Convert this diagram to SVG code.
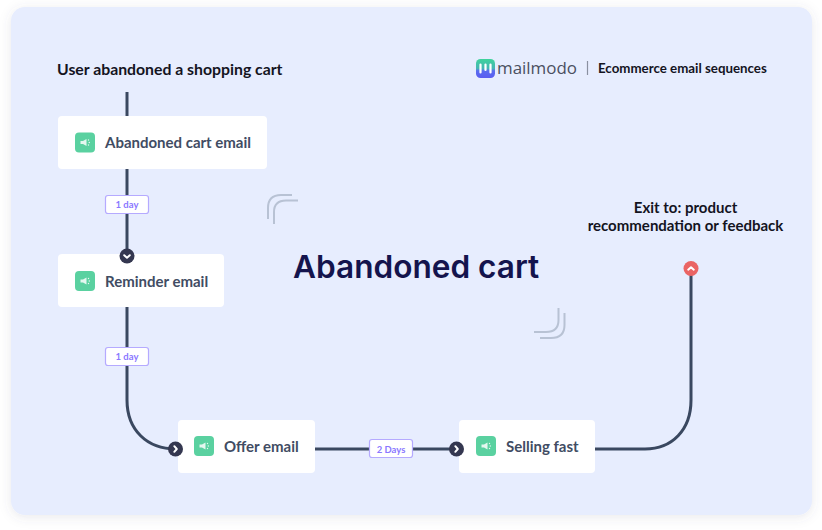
<svg xmlns="http://www.w3.org/2000/svg" width="822" height="530" viewBox="0 0 822 530">
<style>
text{font-family:"Lato","Liberation Sans",sans-serif}
.card{fill:#fff}
.lbl{font-size:15px;font-weight:700;fill:#414c63}
.head{font-size:15px;font-weight:700;fill:#14141f}
.start{font-size:15.8px}
.line{fill:none;stroke:#3a4860;stroke-width:3}
.brk{fill:none;stroke:#b8c2d4;stroke-width:2}
.badge{fill:#fff;stroke:#b5aaff;stroke-width:1.2}
.btxt{font-size:9.5px;font-weight:700;fill:#8a78ff;text-anchor:middle}
.dot{fill:#343750}
.chev{fill:none;stroke:#fff;stroke-width:2;stroke-linecap:round;stroke-linejoin:round}
.ico{fill:#5ad1a0}
.mg{fill:#e4f7ef}
</style>
<defs>
<filter id="sh" x="-5%" y="-5%" width="110%" height="110%"><feDropShadow dx="0" dy="2" stdDeviation="6" flood-color="#50506e" flood-opacity="0.13"/></filter>
<linearGradient id="lg" x1="0" y1="0" x2="0" y2="1"><stop offset="0" stop-color="#3fd39b"/><stop offset="0.5" stop-color="#45b5b5"/><stop offset="0.62" stop-color="#5a6cf0"/><stop offset="1" stop-color="#5a5cf0"/></linearGradient>
<g id="icon"><rect class="ico" width="20" height="20" rx="4"/><path class="mg" d="M5.500 8.500h2.500l3.500-2v7l-3.500-2h-2.500z"/><circle class="mg" cx="13.500" cy="7.500" r="0.700"/><circle class="mg" cx="14.300" cy="10" r="0.700"/><circle class="mg" cx="13.500" cy="12.500" r="0.700"/></g>
</defs>
<rect width="822" height="530" fill="#fff"/>
<rect id="panel" x="11" y="7" width="801" height="508" rx="14" fill="#e7edfe" filter="url(#sh)"/>
<g id="connectors">
<path class="line" d="M127 92V256"/>
<path class="line" d="M127 256V400C127 430 147 449 176 449H457"/>
<path class="line" d="M595 449H645C672 449 691 430 691 400V269"/>
<rect class="badge" x="105.500" y="195.500" width="43" height="18" rx="2.500"/>
<text class="btxt" x="127" y="208">1 day</text>
<rect class="badge" x="105.500" y="347.500" width="43" height="18" rx="2.500"/>
<text class="btxt" x="127" y="360">1 day</text>
<rect class="badge" x="369.500" y="439.500" width="43" height="18" rx="2.500"/>
<text class="btxt" x="391" y="452.500">2 Days</text>
</g>
<g id="node-abandoned"><rect class="card" x="58" y="116" width="209" height="53" rx="4"/><use href="#icon" x="75" y="132.500"/><text class="lbl" x="105" y="148" textLength="146">Abandoned cart email</text></g>
<g id="node-reminder"><rect class="card" x="58" y="254" width="166" height="53" rx="4"/><use href="#icon" x="75" y="271"/><text class="lbl" x="105" y="287">Reminder email</text></g>
<g id="node-offer"><rect class="card" x="178" y="420" width="137" height="53" rx="4"/><use href="#icon" x="194" y="436"/><text class="lbl" x="224" y="452">Offer email</text></g>
<g id="node-selling"><rect class="card" x="459" y="420" width="136" height="53" rx="4"/><use href="#icon" x="476" y="436"/><text class="lbl" x="506" y="452">Selling fast</text></g>
<g id="dots">
<circle class="dot" cx="127" cy="256" r="7.500"/><path class="chev" d="M124.200 255.200l2.800 2.500 2.800-2.500"/>
<circle class="dot" cx="175.500" cy="449" r="7.500"/><path class="chev" d="M174.300 446.200l2.500 2.800-2.500 2.800"/>
<circle class="dot" cx="456.500" cy="449" r="7.500"/><path class="chev" d="M455.300 446.200l2.500 2.800-2.500 2.800"/>
<circle cx="691" cy="268.500" r="7.500" fill="#ea6464"/><path class="chev" d="M688.200 269.700l2.800-2.500 2.800 2.500"/>
</g>
<g id="exit"><text class="head" text-anchor="middle" x="685.500" y="213">Exit to: product</text><text class="head" text-anchor="middle" x="685.500" y="231">recommendation or feedback</text></g>
<text id="start" class="head start" x="57" y="75">User abandoned a shopping cart</text>
<g id="logo">
<rect x="476" y="59" width="19" height="19" rx="4.500" fill="url(#lg)"/>
<path d="M480.500 64.500v8M485.500 64.500v5.500M490.500 64.500v8" stroke="#fff" stroke-width="2.200" stroke-linecap="round" fill="none"/>
<text x="497" y="74" font-size="17" fill="#4a4f60" style="font-family:'Open Sans','Liberation Sans',sans-serif" textLength="80" lengthAdjust="spacingAndGlyphs">mailmodo</text>
<path d="M587.500 61v14" stroke="#8a90a0" stroke-width="1.200"/>
<text x="598" y="73" font-size="13.300" font-weight="700" fill="#14141f">Ecommerce email sequences</text>
</g>
<text id="title" x="293" y="278" font-size="31.600" font-weight="600" fill="#14144d" style="font-family:Inter,'Liberation Sans',sans-serif">Abandoned cart</text>
<g id="deco">
<path class="brk" d="M268 219V208Q268 195 281 195H292"/>
<path class="brk" d="M274 224V212Q274 200.500 286 200.500H298"/>
<path class="brk" d="M534 332H546Q558.500 332 558.500 320V308"/>
<path class="brk" d="M540 338H551Q564.500 338 564.500 325V313"/>
</g>
</svg>
